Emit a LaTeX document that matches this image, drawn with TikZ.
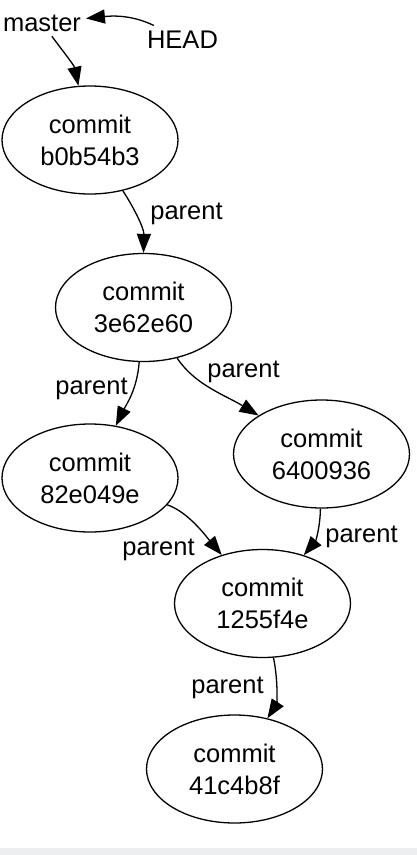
\documentclass[tikz,border=0pt]{standalone}
\usepackage{fontspec}
\setmainfont{Liberation Sans}
\usetikzlibrary{positioning}
\usetikzlibrary{shapes.geometric,arrows.meta}
\definecolor{bandGray}{RGB}{237,238,240}
\tikzset{
    commitNode/.style={
		draw, ellipse, line width=1.3pt, minimum width=176pt, minimum height=108pt,
		inner sep=0pt, align=center, font=\fontsize{25.5}{32}\selectfont
	}
}
\tikzset{
    refLabel/.style={
		anchor=base, inner sep=1pt, outer sep=4pt, font=\fontsize{25.5}{32}\selectfont
	}
}
\tikzset{
    parentArrow/.style={
		line width=1.3pt, -{Triangle[length=19pt,width=14pt]}
	}
}
\begin{document}
\begin{tikzpicture}[x=1pt,y=-1pt]
			\useasboundingbox (0,0) rectangle (417,855);
			\fill[bandGray] (0,848) rectangle (417,855);
			\node[refLabel] (master) at(42,31) {master};
			\node[refLabel] (head) at(182.5,48) {HEAD};
			\node[commitNode] (b0b) at(90,140) {commit\\b0b54b3};
			\node[commitNode] (c3e) at(143.5,307.5) {commit\\3e62e60};
			\node[commitNode] (c82) at(90,478) {commit\\82e049e};
			\node[commitNode] (c64) at(321.5,454) {commit\\6400936};
			\node[commitNode] (c12) at(262.5,603.5) {commit\\1255f4e};
			\node[commitNode] (c41) at(234.5,769) {commit\\41c4b8f};
			% parent labels
			\node[refLabel] (p1) at(186.5,219) {parent};
			\node[refLabel] (p2) at(91.5,394) {parent};
			\node[refLabel] (p3) at(243.5,377) {parent};
			\node[refLabel] (p4) at(158.5,555) {parent};
			\node[refLabel] (p5) at(361.5,542) {parent};
			\node[refLabel] (p6) at(227.5,693) {parent};
			\draw[parentArrow] (head) .. controls (130,14) and (110,16) .. (master);
			\draw[parentArrow] (master) .. controls (62,50) and (74,65) .. (b0b);
			\draw[parentArrow] (b0b) .. controls (134,208) and (144,228) .. (c3e.north);
			\draw[parentArrow] (c3e) .. controls (137,390) and (126,405) .. (c82);
			\draw[parentArrow] (c3e) .. controls (195,385) and (225,395) .. (c64);
			\draw[parentArrow] (c82) .. controls (188,512) and (205,535) .. (c12);
			\draw[parentArrow] (c64) .. controls (320,530) and (315,542) .. (c12);
			\draw[parentArrow] (c12) .. controls (279,685) and (276,705) .. (c41);
		\end{tikzpicture}
\end{document}
